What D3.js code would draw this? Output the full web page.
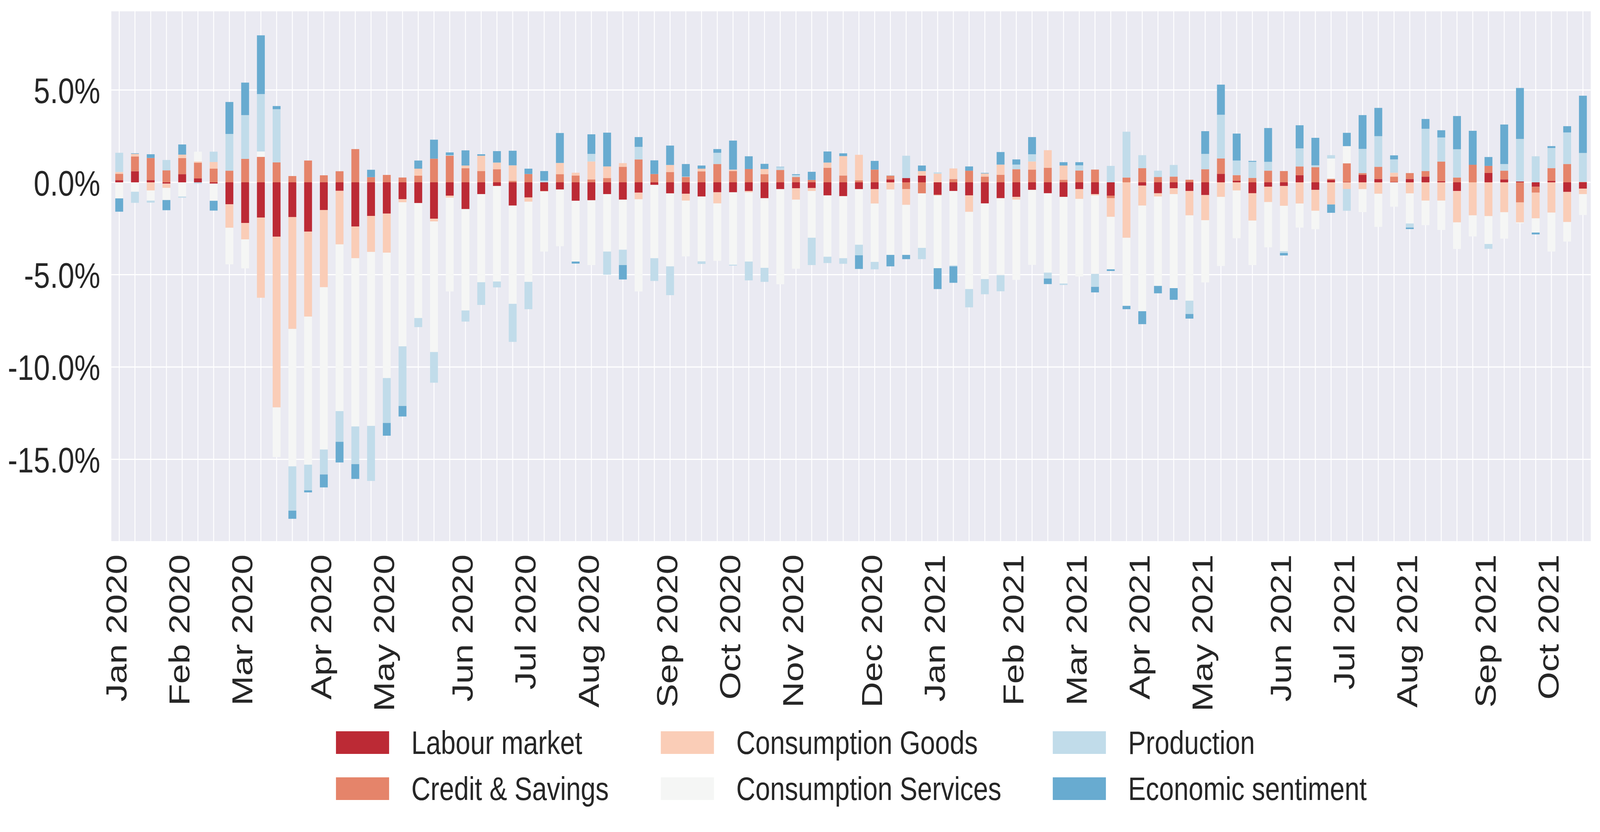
<!DOCTYPE html>
<html>
<head>
<meta charset="utf-8">
<script src="https://cdn.jsdelivr.net/npm/d3@7"></script>
<style>
  html, body { margin: 0; padding: 0; background: #ffffff; overflow: hidden; }
  #chart { display: block; width: 100vw; height: 100vh; }
  text { font-family: "Liberation Sans", Arial, sans-serif; fill: #262626; }
</style>
</head>
<body>
<svg id="chart"></svg>
<script>
// series names + colours (legend order = stacking order)
var seriesNames = ["Labour market", "Credit & Savings", "Consumption Goods",
                   "Consumption Services", "Production", "Economic sentiment"];
var seriesKeys = ["labour", "credit", "goods", "services", "production", "sentiment"];
var seriesColors = ["#bc2a35", "#e5846a", "#facdb7", "#f5f6f5", "#c1dcea", "#68abd0"];

// weekly contributions in %, one value per week (Jan 5 2020 .. Oct 17 2021)
var labour = [0.12,0.60,0.12,-0.07,0.44,0.21,-0.07,-1.19,-2.20,-1.91,
  -2.94,-1.88,-2.67,-1.50,-0.46,-2.39,-1.82,-1.69,-0.91,-1.12,
  -1.97,-0.72,-1.45,-0.64,-0.20,-1.26,-0.82,-0.47,-0.39,-1.00,
  -0.97,-0.64,-0.94,-0.56,-0.14,-0.60,-0.62,-0.77,-0.54,-0.54,
  -0.47,-0.86,-0.37,-0.32,-0.31,-0.71,-0.75,-0.37,-0.37,0.16,
  0.23,0.36,-0.67,-0.47,-0.71,-1.14,-0.86,-0.79,-0.41,-0.59,
  -0.79,-0.37,-0.64,-0.72,0.00,-0.18,-0.59,-0.32,-0.47,-0.69,
  0.46,0.09,-0.59,-0.24,-0.20,0.39,-0.41,0.13,0.02,0.41,
  0.18,0.02,0.18,0.31,0.06,-0.47,0.00,0.51,0.16,0.05,
  -0.24,0.08,-0.52,-0.34];

var credit = [0.34,0.80,1.20,0.65,0.87,0.85,0.74,0.63,1.27,1.38,
  1.08,0.34,1.18,0.38,0.60,1.80,0.28,0.40,0.26,0.36,
  1.28,1.44,0.76,0.61,0.71,0.08,0.45,-0.02,0.44,0.37,
  0.16,0.23,0.84,1.24,0.45,0.56,0.29,0.59,0.99,0.61,
  0.72,0.44,0.67,0.29,0.13,0.79,0.37,0.11,0.69,0.20,
  -0.37,-0.60,-0.03,0.18,0.63,0.31,0.41,0.71,0.69,0.79,
  0.14,0.64,0.69,-0.14,0.26,0.77,0.29,0.31,0.14,0.71,
  0.83,0.30,0.24,0.63,0.61,0.47,0.82,0.06,1.01,0.09,
  0.66,0.29,0.32,0.30,1.06,0.26,0.95,0.38,0.47,-1.09,
  -0.32,0.69,0.99,0.02];

var goods = [0.10,0.14,-0.44,-0.23,0.19,0.07,0.36,-1.27,-0.89,-4.34,
  -9.25,-6.06,-4.60,-4.18,-2.90,-1.72,-1.95,-2.12,-0.17,0.38,
  -0.15,-0.11,0.15,0.83,0.36,0.84,-0.23,0.00,0.61,0.15,
  0.97,0.63,0.20,-0.36,0.00,0.38,-0.37,0.15,-0.60,0.08,
  -0.07,0.28,0.00,-0.62,-0.16,0.28,1.05,1.38,-0.78,-0.39,
  -0.85,0.25,0.47,0.57,-0.89,0.17,0.55,-0.15,0.44,0.95,
  0.77,-0.53,-0.07,-1.01,-3.00,-1.08,-0.18,-0.32,-1.32,-1.36,
  -0.79,-0.44,-1.48,-0.83,-1.07,-1.15,-1.13,-1.20,-0.36,-0.37,
  -0.62,0.21,-0.60,-0.99,-0.99,-1.70,-1.79,-1.83,-1.62,-1.08,
  -1.39,-1.64,-1.63,-0.30];

var services = [-0.87,-0.51,-0.55,-0.66,-0.77,0.53,-0.93,-1.98,-1.57,0.29,
  -2.69,-7.44,-8.02,-8.79,-9.03,-9.11,-9.42,-6.79,-7.80,-6.23,
  -7.07,-5.08,-5.49,-4.77,-5.17,-5.32,-4.34,-3.26,-3.07,-3.29,
  -3.51,-3.11,-2.71,-4.99,-3.97,-3.95,-3.02,-3.51,-3.11,-3.92,
  -3.75,-3.77,-5.15,-3.74,-2.53,-3.32,-3.36,-3.01,-3.16,-3.54,
  -2.71,-2.95,-3.95,-4.03,-4.18,-4.10,-4.17,-4.34,-4.06,-4.30,
  -4.69,-4.20,-4.25,-2.84,-3.69,-5.72,-4.84,-5.09,-4.62,-3.37,
  -3.74,-2.59,-2.41,-2.45,-2.46,-1.30,-1.00,1.10,0.93,-1.24,
  -1.79,-1.32,-1.63,-1.33,-1.59,-1.44,-1.14,-1.51,-1.43,-0.05,
  -0.77,-2.11,-1.06,-1.13];

var production = [1.04,-0.60,-0.11,0.56,-0.06,-0.07,0.56,1.99,2.37,3.11,
  2.88,-2.40,-1.39,-1.35,-1.66,-2.04,-2.98,-2.43,-3.23,-0.49,
  -1.66,0.03,-0.60,-1.23,-0.32,-2.06,-1.48,0.09,0.00,0.00,
  0.41,-1.25,-0.83,0.68,-1.23,-1.56,0.02,-0.14,0.61,-0.05,
  -1.02,-0.76,0.15,0.10,-1.48,-0.34,-0.30,-0.57,-0.40,0.03,
  1.21,-0.61,0.07,-0.05,-0.99,-0.82,-0.87,0.25,0.39,-0.32,
  -0.08,0.28,-0.70,0.89,2.48,0.70,0.34,0.63,-0.72,0.83,
  2.37,0.79,0.87,0.48,-0.10,0.98,0.10,0.18,-1.18,1.31,
  1.66,0.72,-0.22,2.29,1.31,1.53,0.00,-0.26,0.36,2.30,
  1.41,1.09,1.71,1.57];

var sentiment = [-0.72,0.03,0.20,-0.55,0.55,0.00,-0.53,1.73,1.76,3.18,
  0.17,-0.44,-0.11,-0.70,-1.12,-0.80,0.40,-0.69,-0.57,0.44,
  1.03,0.15,0.82,0.08,0.62,0.79,0.29,0.52,1.62,-0.11,
  1.06,1.83,-0.78,0.53,0.74,1.05,0.68,0.17,0.20,1.57,
  0.69,0.28,0.02,0.05,0.44,0.60,0.15,-0.74,0.47,-0.62,
  -0.23,0.30,-1.13,-0.89,0.23,0.03,0.68,0.28,0.93,-0.30,
  0.18,0.17,-0.30,-0.09,-0.18,-0.70,-0.40,-0.63,-0.25,1.23,
  1.63,1.46,0.05,1.83,-0.13,1.25,1.49,-0.45,0.72,1.83,
  1.53,0.22,-0.08,0.53,0.39,1.80,1.84,0.48,2.14,2.76,
  -0.10,0.10,0.34,3.10];

// month tick labels, each sits on the first week of that month
var tickLabels = ["Jan 2020","Feb 2020","Mar 2020","Apr 2020","May 2020","Jun 2020",
  "Jul 2020","Aug 2020","Sep 2020","Oct 2020","Nov 2020","Dec 2020",
  "Jan 2021","Feb 2021","Mar 2021","Apr 2021","May 2021","Jun 2021",
  "Jul 2021","Aug 2021","Sep 2021","Oct 2021"];

var yTicks = [-15, -10, -5, 0, 5];

// weeks (Sundays)
var weeks = d3.timeWeek.range(new Date(2020, 0, 5), new Date(2021, 9, 18));

// drawing is laid out on a 5029 x 2131 canvas and stretched to the window
var W = 5029, H = 2131;
var plotLeft = 350, plotRight = 5000, plotTop = 29, plotBottom = 1386;

var svg = d3.select("#chart")
  .attr("viewBox", "0 0 " + W + " " + H)
  .attr("preserveAspectRatio", "none");
svg.append("rect").attr("width", W).attr("height", H).attr("fill", "#ffffff");

var allSeries = [labour, credit, goods, services, production, sentiment];
var rows = weeks.map(function(d, i) {
  var r = { week: i };
  for (let k = 0; k < seriesKeys.length; k++) {
    r[seriesKeys[k]] = allSeries[k][i];
  }
  return r;
});

var x = d3.scaleBand()
  .domain(rows.map(function(d) { return d.week; }))
  .range([plotLeft, plotRight])
  .paddingInner(0.5)
  .paddingOuter(0.25);

var y = d3.scaleLinear().domain([-19.43, 9.26]).range([plotBottom, plotTop]);

// plot background
svg.append("rect")
  .attr("x", plotLeft).attr("y", plotTop)
  .attr("width", plotRight - plotLeft).attr("height", plotBottom - plotTop)
  .attr("fill", "#eaeaf2");

// vertical grid (one per bar)
svg.append("g")
  .selectAll("line")
  .data(rows)
  .join("line")
  .attr("x1", function(d) { return x(d.week) + x.bandwidth() / 2; })
  .attr("x2", function(d) { return x(d.week) + x.bandwidth() / 2; })
  .attr("y1", plotTop).attr("y2", plotBottom)
  .attr("stroke", "#ffffff")
  .attr("stroke-width", 2.8);

// horizontal grid
svg.append("g")
  .selectAll("line")
  .data(yTicks)
  .join("line")
  .attr("x1", plotLeft).attr("x2", plotRight)
  .attr("y1", function(d) { return y(d); })
  .attr("y2", function(d) { return y(d); })
  .attr("stroke", "#ffffff")
  .attr("stroke-width", 3);

// stacked bars, positives up and negatives down
var stack = d3.stack()
  .keys(seriesKeys)
  .order(d3.stackOrderNone)
  .offset(d3.stackOffsetDiverging);
var layers = stack(rows);

svg.append("g")
  .selectAll("g")
  .data(layers)
  .join("g")
  .attr("fill", function(d, i) { return seriesColors[i]; })
  .selectAll("rect")
  .data(function(d) { return d; })
  .join("rect")
  .attr("x", function(d) { return x(d.data.week); })
  .attr("width", x.bandwidth())
  .attr("y", function(d) { return y(Math.max(d[0], d[1])); })
  .attr("height", function(d) { return Math.abs(y(d[0]) - y(d[1])); });

// y axis labels
var fmt = function(d) { return (d < 0 ? "-" : "") + Math.abs(d).toFixed(1) + "%"; };
var yAxis = svg.append("g")
  .attr("transform", "translate(" + plotLeft + ",0)")
  .call(d3.axisLeft(y).tickValues(yTicks).tickFormat(fmt).tickSize(0).tickPadding(35));
yAxis.select(".domain").remove();
yAxis.attr("font-family", null).attr("font-size", null);
yAxis.selectAll("text")
  .attr("font-size", 91.7)
  .attr("dy", "0.36em")
  .style("fill", "#262626");

// x axis labels, only first week of each month
var monthFmt = d3.timeFormat("%b %Y");
var labelAt = {};
tickLabels.forEach(function(lab) {
  for (let i = 0; i < weeks.length; i++) {
    if (monthFmt(weeks[i]) == lab) { labelAt[i] = lab; break; }
  }
});
var xAxis = svg.append("g")
  .attr("transform", "translate(0," + plotBottom + ")")
  .call(d3.axisBottom(x).tickSize(0).tickFormat(function(i) { return labelAt[i] || ""; }));
xAxis.select(".domain").remove();
xAxis.attr("font-family", null).attr("font-size", null);
xAxis.selectAll("text")
  .attr("font-size", 91.7)
  .attr("transform", "rotate(-90)")
  .attr("x", -34)
  .attr("y", 0)
  .attr("dy", "0.25em")
  .style("text-anchor", "end")
  .style("fill", "#262626");

// legend, 3 columns x 2 rows
var legendX = [1056, 2077, 3309];
var legendY = [1902, 2020];
var legend = svg.append("g");
seriesNames.forEach(function(name, i) {
  var col = Math.floor(i / 2), row = i % 2;
  var g = legend.append("g")
    .attr("transform", "translate(" + legendX[col] + "," + legendY[row] + ")");
  g.append("rect")
    .attr("x", 0).attr("y", -29)
    .attr("width", 167).attr("height", 58)
    .attr("fill", seriesColors[i]);
  g.append("text")
    .attr("x", 237).attr("y", 29)
    .attr("font-size", 83.3)
    .text(name);
});
</script>
</body>
</html>
